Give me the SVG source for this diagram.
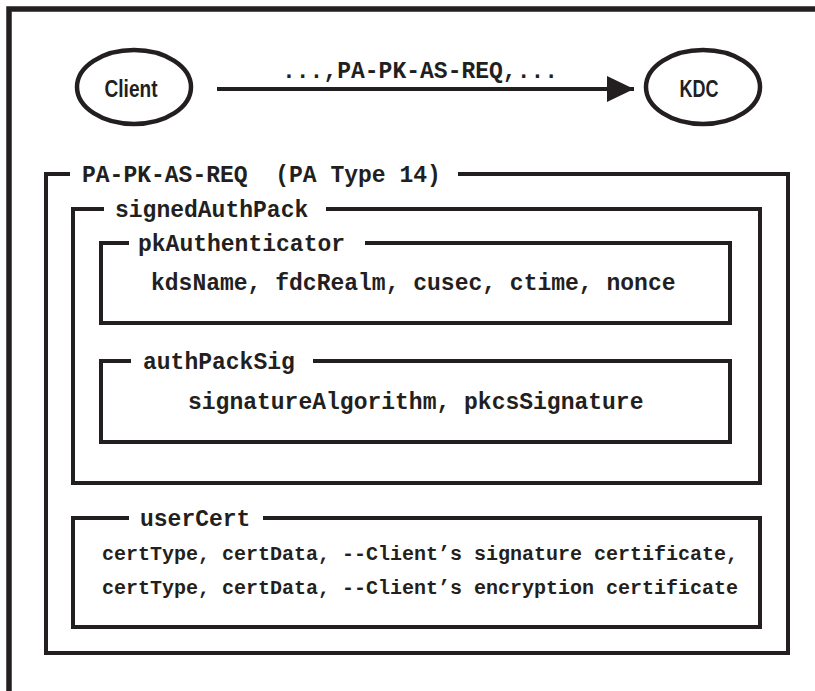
<svg xmlns="http://www.w3.org/2000/svg" width="815" height="691" viewBox="0 0 815 691">
  <style>
    .frame { fill: none; stroke: #231f20; stroke-width: 5.5; }
    .box { fill: none; stroke: #231f20; stroke-width: 4; stroke-linecap: square; }
    .node { fill: #ffffff; stroke: #231f20; stroke-width: 4.5; }
    .nlabel { font-family: "Liberation Sans Narrow", "Liberation Sans", Arial, sans-serif; font-weight: bold; font-size: 24px; fill: #231f20; text-anchor: middle; }
    .mono { font-family: "Liberation Mono", "Courier New", monospace; font-weight: bold; font-size: 23px; fill: #231f20; }
    .small { font-size: 20px; }
    .conn { stroke: #231f20; stroke-width: 4; fill: none; }
  </style>
  <defs>
    <marker id="arrowhead" markerUnits="userSpaceOnUse" markerWidth="28" markerHeight="28" refX="27" refY="13" orient="auto">
      <path d="M0,0 L27,13 L0,26 Z" fill="#231f20"/>
    </marker>
  </defs>

  <rect width="815" height="691" fill="#ffffff"/>

  <!-- page frame: top rule and left rule -->
  <path class="frame" d="M9,691 V9 H815"/>

  <!-- message flow -->
  <g id="connectors">
    <line class="conn" x1="217" y1="89" x2="634" y2="89" marker-end="url(#arrowhead)"/>
    <text class="mono" x="282" y="78">...,PA-PK-AS-REQ,...</text>
  </g>

  <g id="client">
    <ellipse class="node" cx="134" cy="87" rx="57" ry="37"/>
    <text class="nlabel" x="131" y="97" textLength="53" lengthAdjust="spacingAndGlyphs">Client</text>
  </g>

  <g id="kdc">
    <ellipse class="node" cx="703" cy="87" rx="57" ry="37"/>
    <text class="nlabel" x="699" y="97" textLength="39" lengthAdjust="spacingAndGlyphs">KDC</text>
  </g>

  <!-- PA-PK-AS-REQ container -->
  <g id="pa-pk-as-req">
    <path class="box" d="M68,174 H46 V653 H788 V174 H460"/>
    <text class="mono" x="82" y="182" xml:space="preserve">PA-PK-AS-REQ  (PA Type 14)</text>
  </g>

  <g id="signedAuthPack">
    <path class="box" d="M102,209 H73 V483 H760 V209 H328"/>
    <text class="mono" x="115" y="217">signedAuthPack</text>
  </g>

  <g id="pkAuthenticator">
    <path class="box" d="M127,243 H101 V323 H730 V243 H367"/>
    <text class="mono" x="138" y="251">pkAuthenticator</text>
    <text class="mono" x="151" y="290">kdsName, fdcRealm, cusec, ctime, nonce</text>
  </g>

  <g id="authPackSig">
    <path class="box" d="M129,361 H101 V442 H730 V361 H315"/>
    <text class="mono" x="143" y="369">authPackSig</text>
    <text class="mono" x="188" y="409">signatureAlgorithm, pkcsSignature</text>
  </g>

  <g id="userCert">
    <path class="box" d="M127,518 H73 V627 H760 V518 H265"/>
    <text class="mono" x="140" y="526">userCert</text>
    <text class="mono small" x="102" y="560">certType, certData, --Client’s signature certificate,</text>
    <text class="mono small" x="102" y="594">certType, certData, --Client’s encryption certificate</text>
  </g>
</svg>
